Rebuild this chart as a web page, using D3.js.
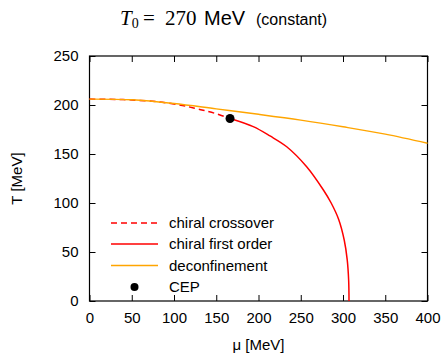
<!DOCTYPE html>
<html>
<head>
<meta charset="utf-8">
<script src="https://cdn.jsdelivr.net/npm/d3@7"></script>
<style>
    body { margin: 0; background: #fff; }
    text { font-family: "Liberation Sans", Arial, sans-serif; fill: #000; }
</style>
</head>
<body>
<svg id="chart" width="447" height="356"></svg>
<script>
// values (mu in MeV, T in MeV)
var crossoverMu = [0, 40, 80, 110, 125, 136, 148, 166.3];
var crossoverT = [206, 205.5, 203.3, 199.5, 196.6, 194.3, 191.6, 186.2];

var firstOrderMu = [166.3, 193.8, 213.6, 233.4, 257, 277, 286, 295, 301.5, 305, 306.7, 307.1];
var firstOrderT = [186.2, 177.9, 168.4, 157.4, 137, 113, 100, 83, 62, 42, 21, 0];

var deconfMu = [0, 50, 100, 150, 200, 250, 300, 350, 400];
var deconfT = [206, 205.3, 201.5, 196, 190.5, 184.6, 177.8, 170.3, 161];

var cepMu = [166.3];
var cepT = [186.2];

var xTicks = [0, 50, 100, 150, 200, 250, 300, 350, 400];
var yTicks = [0, 50, 100, 150, 200, 250];

var legendLabels = ["chiral crossover", "chiral first order", "deconfinement", "CEP"];

var svg = d3.select("#chart");

var plotL = 89.5, plotR = 427.5, plotT = 56, plotB = 301;

var x = d3.scaleLinear().domain([0, 400]).range([plotL, plotR]);
var y = d3.scaleLinear().domain([0, 250]).range([plotB, plotT]);

function pts(mu, t) {
    var out = [];
    for (var i = 0; i < mu.length; i++) {
        out.push([mu[i], t[i]]);
    }
    return out;
}

var line = d3.line()
    .x(function (d) { return x(d[0]); })
    .y(function (d) { return y(d[1]); })
    .curve(d3.curveCatmullRom.alpha(0.5));

// axes, ticks point inward on all four sides
svg.append("g")
    .attr("transform", "translate(0," + plotB + ")")
    .call(d3.axisBottom(x).tickValues(xTicks).tickSizeInner(-6).tickSizeOuter(0).tickPadding(11))
    .call(function (g) { g.select(".domain").remove(); });

svg.append("g")
    .attr("transform", "translate(0," + plotT + ")")
    .call(d3.axisTop(x).tickValues(xTicks).tickSizeInner(-6).tickSizeOuter(0).tickFormat(""))
    .call(function (g) { g.select(".domain").remove(); });

svg.append("g")
    .attr("transform", "translate(" + plotL + ",0)")
    .call(d3.axisLeft(y).tickValues(yTicks).tickSizeInner(-6).tickSizeOuter(0).tickPadding(11))
    .call(function (g) { g.select(".domain").remove(); });

svg.append("g")
    .attr("transform", "translate(" + plotR + ",0)")
    .call(d3.axisRight(y).tickValues(yTicks).tickSizeInner(-6).tickSizeOuter(0).tickFormat(""))
    .call(function (g) { g.select(".domain").remove(); });

svg.selectAll(".tick text")
    .style("font-family", "'Liberation Sans', Arial, sans-serif")
    .style("font-size", "15px");
svg.selectAll(".tick line").attr("stroke", "#000");

svg.append("rect")
    .attr("x", plotL)
    .attr("y", plotT)
    .attr("width", plotR - plotL)
    .attr("height", plotB - plotT)
    .attr("fill", "none")
    .attr("stroke", "#000")
    .attr("stroke-width", 1.2);

// curves
svg.append("path")
    .attr("d", line(pts(crossoverMu, crossoverT)))
    .attr("fill", "none")
    .attr("stroke", "#ff0000")
    .attr("stroke-width", 1.5)
    .attr("stroke-dasharray", "6,4");

svg.append("path")
    .attr("d", line(pts(firstOrderMu, firstOrderT)))
    .attr("fill", "none")
    .attr("stroke", "#ff0000")
    .attr("stroke-width", 1.5);

svg.append("path")
    .attr("d", line(pts(deconfMu, deconfT)))
    .attr("fill", "none")
    .attr("stroke", "#ffa500")
    .attr("stroke-width", 1.4);

svg.selectAll(".cep")
    .data(pts(cepMu, cepT))
    .enter()
    .append("circle")
    .attr("class", "cep")
    .attr("cx", function (d) { return x(d[0]); })
    .attr("cy", function (d) { return y(d[1]); })
    .attr("r", 4.5)
    .attr("fill", "#000");

// legend
var legend = svg.append("g");
var rowY = [223, 244, 265.5, 287];
var styles = [
    { stroke: "#ff0000", dash: "6,4", w: 1.5 },
    { stroke: "#ff0000", dash: null, w: 1.5 },
    { stroke: "#ffa500", dash: null, w: 1.4 }
];
for (var i = 0; i < legendLabels.length; i++) {
    if (i < 3) {
        legend.append("line")
            .attr("x1", 111).attr("x2", 158)
            .attr("y1", rowY[i]).attr("y2", rowY[i])
            .attr("stroke", styles[i].stroke)
            .attr("stroke-width", styles[i].w)
            .attr("stroke-dasharray", styles[i].dash);
    } else {
        legend.append("circle")
            .attr("cx", 134.5).attr("cy", rowY[i])
            .attr("r", 4)
            .attr("fill", "#000");
    }
    legend.append("text")
        .attr("x", 169)
        .attr("y", rowY[i])
        .attr("dy", "0.35em")
        .style("font-size", "15px")
        .text(legendLabels[i]);
}

// axis titles
svg.append("text")
    .attr("transform", "translate(22," + ((plotT + plotB) / 2) + ") rotate(-90)")
    .attr("text-anchor", "middle")
    .style("font-size", "15px")
    .text("T [MeV]");

svg.append("text")
    .attr("x", (plotL + plotR) / 2)
    .attr("y", 350)
    .attr("text-anchor", "middle")
    .style("font-size", "15px")
    .text("\u03bc [MeV]");

// title
var title = svg.append("text")
    .attr("x", 120)
    .attr("y", 25);
title.append("tspan")
    .style("font-family", "'Liberation Serif', serif")
    .style("font-style", "italic")
    .style("font-size", "21px")
    .text("T");
title.append("tspan")
    .attr("dy", 3)
    .style("font-family", "'Liberation Serif', serif")
    .style("font-size", "14px")
    .text("0");
title.append("tspan")
    .attr("dy", -3)
    .attr("x", 143)
    .style("font-family", "'Liberation Serif', serif")
    .style("font-size", "21px")
    .text("=");
title.append("tspan")
    .attr("x", 165)
    .style("font-family", "'Liberation Serif', serif")
    .style("font-size", "21px")
    .text("270");
title.append("tspan")
    .attr("x", 204)
    .style("font-size", "20px")
    .text("MeV");
title.append("tspan")
    .attr("x", 256)
    .style("font-size", "16px")
    .text("(constant)");
</script>
</body>
</html>
